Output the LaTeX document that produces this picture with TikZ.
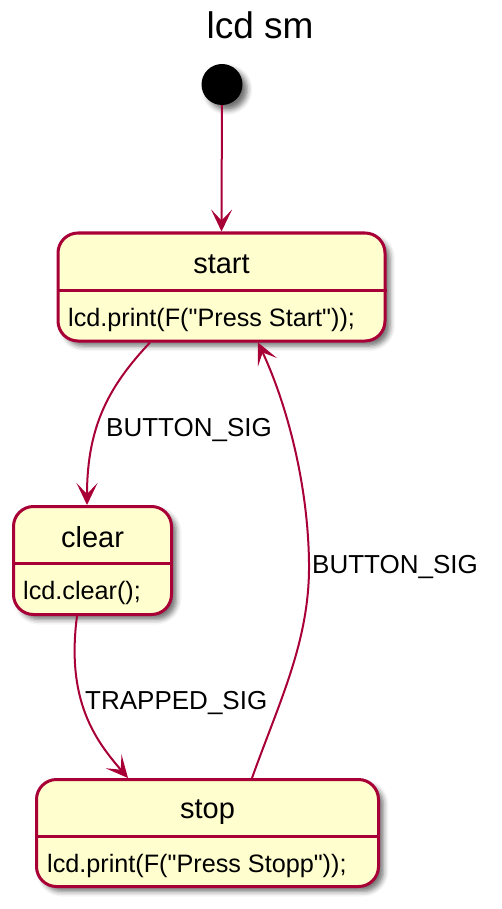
\documentclass[tikz,border=0pt]{standalone}
\usepackage{fontspec}
\setmainfont{Liberation Sans}[Ligatures=TeXOff]
\usepackage{tikz}
\usetikzlibrary{arrows.meta,shadows.blur,positioning}
\definecolor{umlred}{RGB}{168,0,54}
\definecolor{umlfill}{RGB}{254,254,206}

\begin{document}
\begin{tikzpicture}[x=1pt,y=-1pt,>={Stealth[length=22pt,width=21pt,inset=11pt]},
  umlshadow/.style={blur shadow={shadow xshift=5pt,shadow yshift=-5pt,shadow blur radius=5pt,shadow opacity=55}},
  statebox/.style={draw=umlred,fill=umlfill,line width=3pt,rounded corners=20pt,inner sep=0pt,umlshadow},
  statename/.style={font=\fontsize{29}{34}\selectfont,inner sep=0pt,anchor=base},
  statebody/.style={font=\fontsize{25.2}{30}\selectfont,inner sep=0pt,anchor=base west},
  signal/.style={font=\fontsize{26}{31}\selectfont,inner sep=0pt,anchor=base west},
  divider/.style={umlred,line width=3pt},
  trans/.style={->,umlred,line width=2pt}]
  \useasboundingbox (0,0) rectangle (501,909);
  \node[font=\fontsize{37}{44}\selectfont,anchor=base,inner sep=0pt] (title) at (260,39) {lcd sm};
  \node[circle,fill=black,minimum size=41pt,inner sep=0pt,umlshadow] (init) at (222,84.5) {};
  % states
  \node[statebox,minimum width=327pt,minimum height=108pt] (start) at (221.5,287) {};
  \draw[divider] (start.west |- 0,290) -- (start.east |- 0,290);
  \node[statename] (start-name) at (221.5,273) {start};
  \node[statebody] (start-body) at (68,326) {lcd.print(F("Press Start"));};
  \node[statebox,minimum width=158pt,minimum height=108pt] (clear) at (92.5,560.5) {};
  \draw[divider] (clear.west |- 0,563) -- (clear.east |- 0,563);
  \node[statename] (clear-name) at (92.5,547) {clear};
  \node[statebody] (clear-body) at (23,599) {lcd.clear();};
  \node[statebox,minimum width=342pt,minimum height=107pt] (stop) at (207.5,833) {};
  \draw[divider] (stop.west |- 0,836) -- (stop.east |- 0,836);
  \node[statename] (stop-name) at (207.5,818) {stop};
  \node[statebody] (stop-body) at (47,872) {lcd.print(F("Press Stopp"));};
  % transitions
  \draw[trans] (init) -- (start.north);
  \draw[trans] ([xshift=-71.5pt]start.south) .. controls (110,385) and (87,425) .. ([xshift=-5.5pt]clear.north);
  \node[signal] (sig-button-a) at (106,436) {BUTTON\_SIG};
  \draw[trans] ([xshift=-15.5pt]clear.south) .. controls (66,700) and (95,740) .. ([xshift=-79.5pt]stop.north);
  \node[signal] (sig-trapped) at (85,709) {TRAPPED\_SIG};
  \draw[trans] ([xshift=44.5pt]stop.north) .. controls (280,700) and (310,640) .. (309,563)
    .. controls (308,480) and (285,400) .. ([xshift=36.5pt]start.south);
  \node[signal] (sig-button-b) at (312,573) {BUTTON\_SIG};
\end{tikzpicture}
\end{document}
